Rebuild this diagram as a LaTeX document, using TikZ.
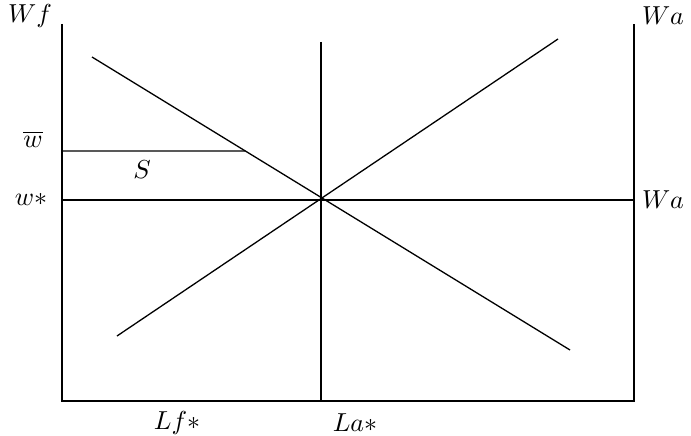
\documentclass[tikz,border=0pt]{standalone}
\begin{document}
\begin{tikzpicture}[x=1pt,y=-1pt,line width=1.3pt]
  \tikzset{lbl/.style={scale=2.6,transform shape,inner sep=1pt}}
  \useasboundingbox (0,0) rectangle (691,436);
  % axes
  \coordinate (ftop) at (62,24);
  \coordinate (o) at (62,401);
  \coordinate (atop) at (634,24);
  \coordinate (abot) at (634,401);
  \coordinate (mtop) at (321,42);
  \coordinate (mbot) at (321,401);
  \draw (ftop) -- (o) -- (abot) -- (atop);
  \draw (mtop) -- (mbot);
  % wage lines
  \coordinate (wst) at (62,200);
  \coordinate (wae) at (634,200);
  \draw (wst) -- (wae);
  \coordinate (dtop) at (92,57);
  \coordinate (dbot) at (570,350);
  \coordinate (utop) at (558,39);
  \coordinate (ubot) at (117,336);
  \draw (dtop) -- (dbot);
  \draw (ubot) -- (utop);
  \coordinate (wbar) at (62,151);
  \coordinate (wbarr) at (634,151);
  \coordinate (wbare) at (intersection of dtop--dbot and wbar--wbarr);
  \draw (wbar) -- (wbare);
  % labels
  \node[lbl] (lwf) at (30,16) {$Wf$};
  \node[lbl] (lwbar) at (33,139) {$\overline{w}$};
  \node[lbl] (lwst) at (31,199) {$w{*}$};
  \node[lbl] (ls) at (142,170) {$S$};
  \node[lbl] (lwa1) at (663,16) {$Wa$};
  \node[lbl] (lwa2) at (663,200) {$Wa$};
  \node[lbl] (llf) at (177,423) {$Lf{*}$};
  \node[lbl] (lla) at (355,423) {$La{*}$};
\end{tikzpicture}
\end{document}
